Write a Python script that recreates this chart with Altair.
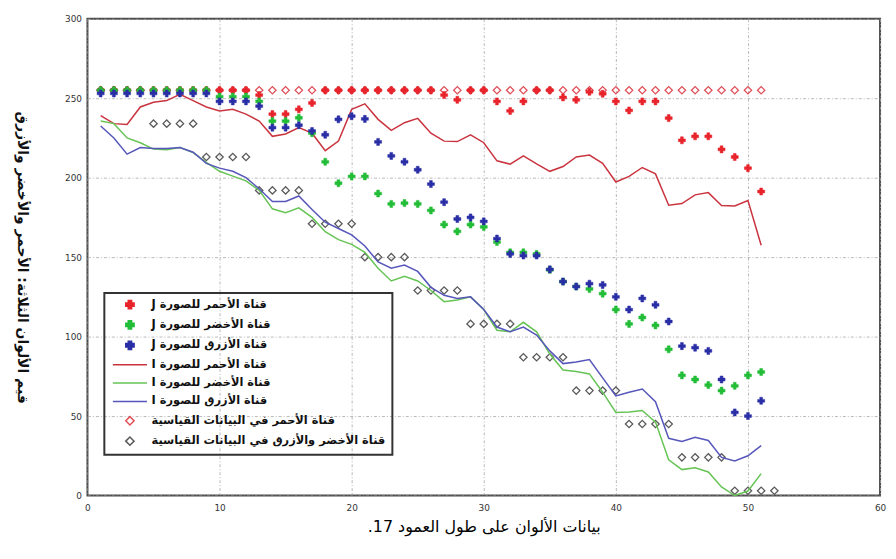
import altair as alt
import pandas as pd

RLE = "\u202b"
PDF = "\u202c"


def rtl(s):
    return RLE + s + PDF


# ---------------- data ----------------
x_main = list(range(1, 52))
x_ref_gb = list(range(1, 53))

red_j = [255, 255, 255, 255, 255, 255, 255, 255, 255, 255, 255, 255, 252, 240, 240, 243, 247,
         255, 255, 255, 255, 255, 255, 255, 255, 255, 252, 249, 255, 255, 248, 242, 248, 255, 255,
         250.5, 249, 254, 252.8, 248, 242.3, 248, 248, 237.5, 223.5, 226, 226, 217.8, 213, 206, 191.3]
green_j = [255, 255, 255, 255, 255, 255, 255, 255, 255, 251, 251, 251, 248, 235.6, 235.6, 237.7, 228,
           210, 196.5, 200.8, 200.8, 190, 183.5, 184, 183.5, 179.4, 170.5, 166.2, 170.5, 169, 159.5,
           153, 153, 152, 142, 134.6, 131.5, 130, 127, 117, 108, 112, 107, 92, 75.6, 73, 69.5, 66, 69,
           75.6, 77.7]
blue_j = [253, 253, 253, 253, 253, 253, 253, 253, 253, 248, 248, 248, 245, 231.5, 231.5, 233, 229.4,
          227, 236.7, 238.7, 237, 222.5, 213.7, 210, 205, 196, 184.6, 174, 175, 172.5, 161.7, 152, 151,
          151, 142.3, 134.6, 131.5, 133.3, 132.5, 125, 117, 124, 120, 109.5, 94, 93, 91, 73, 52.3, 50,
          59.6]

red_i = [239, 234, 233.5, 244.5, 247.5, 248.5, 252.5, 248.5, 244.5, 242,
         243, 240, 235.6, 226, 227.5, 231.5, 228, 217, 223, 243,
         246.5, 236.7, 229.8, 234.6, 237.3, 228, 223, 222.7, 227, 222,
         210.6, 208.5, 213.7, 208.7, 204, 207, 213, 214.2, 209, 197.3,
         200.8, 206.4, 202.4, 182.7, 183.7, 189.2, 190.6, 182.5, 182.2, 185.6, 157.5]
green_i = [235.6, 234, 225, 222, 218, 217.5, 219, 215.8, 209.6, 204,
           201, 198, 192, 180.4, 178, 181, 175, 166, 161, 158,
           153, 143, 135, 138, 135, 129, 122, 123, 125, 117,
           104, 103, 109, 103, 89, 79, 78, 76.5, 65, 52.3,
           52.5, 53.5, 46.2, 22.5, 16.3, 17.5, 14.8, 5.4, 0, 2.8, 13.75]
blue_i = [232.5, 225, 214.8, 219, 218.3, 218.3, 219, 216, 209, 206,
          204, 200, 193, 185, 185, 188.5, 180, 172, 168, 164,
          157, 147, 143, 145, 141, 131, 126, 124, 125, 117,
          106, 103, 106, 101, 91, 83, 84, 85.6, 74, 62.7,
          65, 67, 59, 36, 34, 36.7, 34.6, 24, 21.8, 25, 31.4]

red_ref = [255, 255, 255, 255, 255, 255, 255, 255, 255, 255, 255, 255, 255, 255, 255, 255, 255,
           255, 255, 255, 255, 255, 255, 255, 255, 255, 255, 255, 255, 255, 255, 255, 255, 255,
           255, 255, 255, 255, 255, 255, 255, 255, 255, 255, 255, 255, 255, 255, 255, 255, 255]
gb_ref = [255, 255, 255, 255, 234, 234, 234, 234, 213, 213, 213, 213, 192, 192, 192, 192,
          171, 171, 171, 171, 150, 150, 150, 150, 129, 129, 129, 129, 108, 108, 108, 108,
          87, 87, 87, 87, 66, 66, 66, 66, 45, 45, 45, 45, 24, 24, 24, 24, 3, 3, 3, 3]

lab_rj = rtl("قناة الأحمر للصورة J")
lab_gj = rtl("قناة الأخضر للصورة J")
lab_bj = rtl("قناة الأزرق للصورة J")
lab_ri = rtl("قناة الأحمر للصورة I")
lab_gi = rtl("قناة الأخضر للصورة I")
lab_bi = rtl("قناة الأزرق للصورة I")
lab_rref = rtl("قناة الأحمر في البيانات القياسية")
lab_gbref = rtl("قناة الأخضر والأزرق في البيانات القياسية")

x_title = rtl("بيانات الألوان على طول العمود 17.")
y_title = rtl("قيم الألوان الثلاثة: الأحمر والأخضر والأزرق")

x_ticks = [0, 10, 20, 30, 40, 50, 60]
y_ticks = [0, 50, 100, 150, 200, 250, 300]

# ---------------- frames ----------------
df_j = pd.DataFrame({
    "x": x_main * 3,
    "y": red_j + green_j + blue_j,
    "series": [lab_rj] * len(red_j) + [lab_gj] * len(green_j) + [lab_bj] * len(blue_j),
})
df_i = pd.DataFrame({
    "x": x_main * 3,
    "y": red_i + green_i + blue_i,
    "series": [lab_ri] * len(red_i) + [lab_gi] * len(green_i) + [lab_bi] * len(blue_i),
})
df_ref = pd.DataFrame({
    "x": x_main + x_ref_gb,
    "y": red_ref + gb_ref,
    "series": [lab_rref] * len(red_ref) + [lab_gbref] * len(gb_ref),
})

# ---------------- styling ----------------
c_rj, c_gj, c_bj = "#e8232b", "#22bd37", "#2a2ea6"
c_ri, c_gi, c_bi = "#c9343f", "#66c455", "#5656bb"
c_rref, c_gbref = "#e0505a", "#5a5a5a"
LINE_SYM = "M-4.1,0H4.1"

domain = [lab_rj, lab_gj, lab_bj, lab_ri, lab_gi, lab_bi, lab_rref, lab_gbref]
fill_range = [c_rj, c_gj, c_bj, "transparent", "transparent", "transparent", "transparent", "transparent"]
stroke_range = [c_rj, c_gj, c_bj, c_ri, c_gi, c_bi, c_rref, c_gbref]
shape_range = ["cross", "cross", "cross", LINE_SYM, LINE_SYM, LINE_SYM, "diamond", "diamond"]

legend = alt.Legend(
    orient="none", legendX=17, legendY=276, direction="vertical",
    padding=6, strokeColor="#333333",
    labelFont="DejaVu Sans", labelFontSize=11.5, labelFontWeight="bold", labelColor="#111111",
    labelLimit=500, symbolSize=70, symbolStrokeWidth=1.5, symbolOffset=14, labelOffset=16,
    rowPadding=5.5,
)

x_enc = alt.X("x:Q", scale=alt.Scale(domain=[0, 60], nice=False),
              axis=alt.Axis(values=x_ticks, title=x_title, labelFlush=False, labelPadding=8,
                            titleFontSize=16, titleFont="DejaVu Sans", titleFontWeight="normal",
                            titleColor="#000000", titlePadding=6))
y_enc = alt.Y("y:Q", scale=alt.Scale(domain=[0, 300], nice=False),
              axis=alt.Axis(values=y_ticks, title=y_title, labelFlush=False, labelPadding=6,
                            titleAngle=90, titleX=-66, titleY=240, titleAlign="center",
                            titleBaseline="middle", titleFontSize=14, titleFont="DejaVu Sans",
                            titleFontWeight="bold", titleColor="#111111"))

fill_enc = alt.Fill("series:N", scale=alt.Scale(domain=domain, range=fill_range), legend=legend, title=None)
stroke_enc = alt.Stroke("series:N", scale=alt.Scale(domain=domain, range=stroke_range), legend=legend, title=None)
shape_enc = alt.Shape("series:N", scale=alt.Scale(domain=domain, range=shape_range), legend=legend, title=None)

ref_layer = alt.Chart(df_ref).mark_point(filled=True, size=55, strokeWidth=1.3, opacity=1).encode(
    x=x_enc, y=y_enc, fill=fill_enc, stroke=stroke_enc, shape=shape_enc)
line_layer = alt.Chart(df_i).mark_line(strokeWidth=1.5).encode(
    x=x_enc, y=y_enc, stroke=stroke_enc)
j_layer = alt.Chart(df_j).mark_point(filled=True, size=50, strokeWidth=0.5, opacity=1).encode(
    x=x_enc, y=y_enc, fill=fill_enc, stroke=stroke_enc, shape=shape_enc)

chart = alt.layer(ref_layer, line_layer, j_layer).properties(
    width=798, height=480,
    padding={"left": 80, "top": 9, "right": 8, "bottom": 48},
    autosize=alt.AutoSizeParams(type="none"),
).configure_axis(
    grid=True, gridColor="#a8a8a8", gridDash=[3, 2, 1, 2], gridWidth=0.8,
    ticks=False, domain=False,
    labelFont="DejaVu Sans", labelFontSize=9, labelColor="#333333",
).configure_view(
    stroke="#4a4a4a", strokeWidth=2,
).configure_legend(
    strokeWidth=2,
)

chart.save("out.html", embed_options={"renderer": "svg", "actions": False})
